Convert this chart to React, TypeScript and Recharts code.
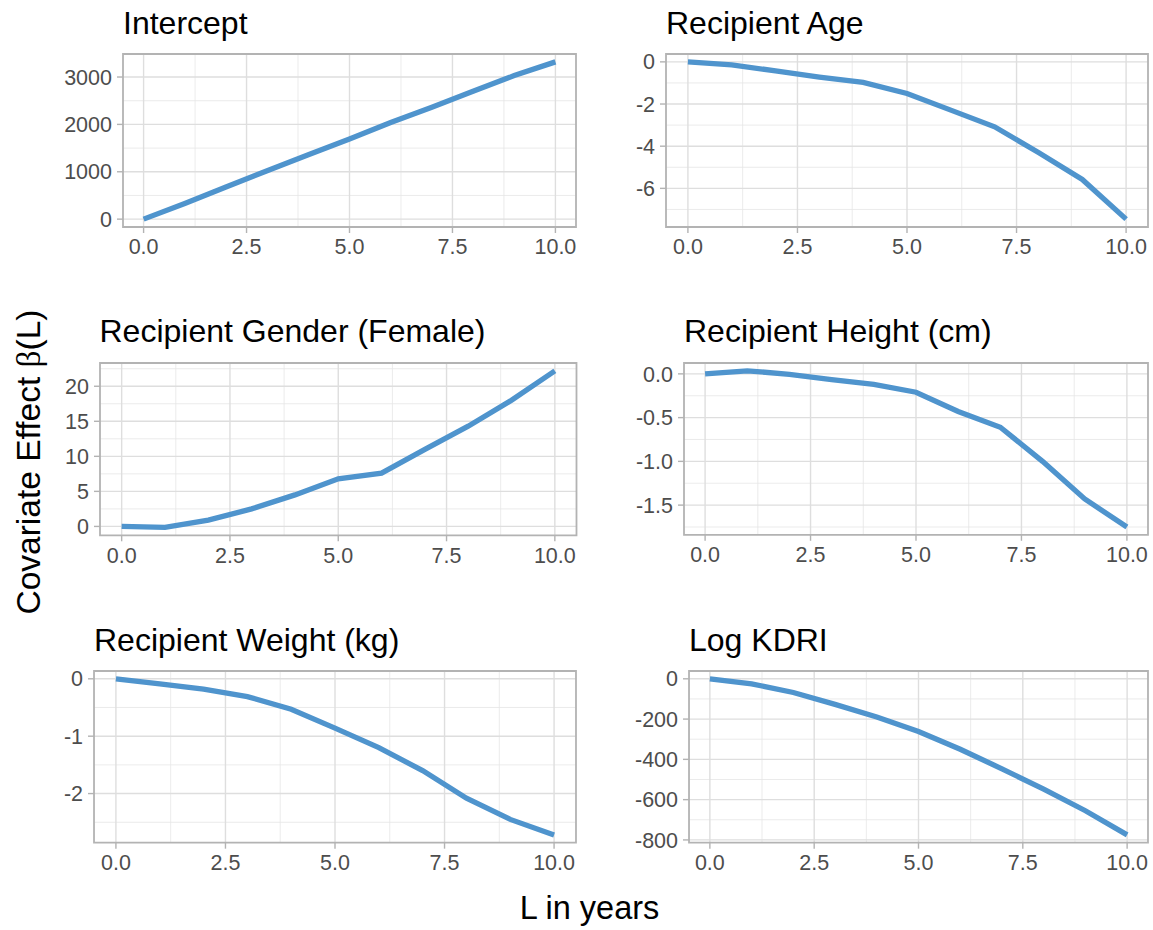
import React from 'react';
import { LineChart, Line, XAxis, YAxis, CartesianGrid, ReferenceArea } from 'recharts';

// ---- data ----
const L_YEARS = [0, 1, 2, 3, 4, 5, 6, 7, 8, 9, 10];
const INTERCEPT = [0, 330, 680, 1020, 1360, 1690, 2040, 2360, 2700, 3030, 3320];
const RECIP_AGE = [0, -0.14, -0.43, -0.72, -0.97, -1.5, -2.29, -3.08, -4.3, -5.58, -7.46];
const RECIP_GENDER = [0, -0.15, 0.9, 2.5, 4.5, 6.8, 7.6, 11.0, 14.3, 18.0, 22.2];
const RECIP_HEIGHT = [0, 0.035, -0.005, -0.065, -0.12, -0.21, -0.43, -0.61, -1.0, -1.43, -1.75];
const RECIP_WEIGHT = [0, -0.09, -0.18, -0.31, -0.53, -0.86, -1.2, -1.6, -2.08, -2.45, -2.72];
const LOG_KDRI = [0, -25, -68, -127, -190, -262, -350, -447, -548, -655, -775];

const X_TICKS = [0, 2.5, 5, 7.5, 10];
const X_MINOR = [1.25, 3.75, 6.25, 8.75];

const TICKS_INTERCEPT = [0, 1000, 2000, 3000];
const MINOR_INTERCEPT = [500, 1500, 2500];
const TICKS_AGE = [-6, -4, -2, 0];
const MINOR_AGE = [-7, -5, -3, -1];
const TICKS_GENDER = [0, 5, 10, 15, 20];
const MINOR_GENDER = [2.5, 7.5, 12.5, 17.5, 22.5];
const TICKS_HEIGHT = [-1.5, -1.0, -0.5, 0];
const MINOR_HEIGHT = [-1.75, -1.25, -0.75, -0.25];
const TICKS_WEIGHT = [-2, -1, 0];
const MINOR_WEIGHT = [-2.5, -1.5, -0.5];
const TICKS_KDRI = [-800, -600, -400, -200, 0];
const MINOR_KDRI = [-700, -500, -300, -100];

const TITLES = [
  'Intercept',
  'Recipient Age',
  'Recipient Gender (Female)',
  'Recipient Height (cm)',
  'Recipient Weight (kg)',
  'Log KDRI',
];

// ---- style / layout ----
const FONT = '"Liberation Sans", Arial, Helvetica, sans-serif';
const LINE_COLOR = '#4F94CD';
const GRID_MAJOR = '#DEDEDE';
const GRID_MINOR = '#E6E6E6';
const BORDER = '#B3B3B3';
const TICK_TEXT = '#4D4D4D';
const TICK_FS = 21.5;

const YW = 90;
const MT = 6;
const MR = 6;
const XH = 44;

const expand = (vals: number[]): [number, number] => {
  const lo = Math.min(...vals);
  const hi = Math.max(...vals);
  const r = hi - lo;
  return [lo - 0.05 * r, hi + 0.05 * r];
};

const fmtInt = (v: number) => String(Math.round(v));
const fmt1 = (v: number) => v.toFixed(1);

type Box = { l: number; t: number; r: number; b: number };

const PANELS: {
  title: string;
  values: number[];
  ticks: number[];
  minor: number[];
  fmt: (v: number) => string;
  box: Box;
}[] = [
  { title: TITLES[0], values: INTERCEPT, ticks: TICKS_INTERCEPT, minor: MINOR_INTERCEPT, fmt: fmtInt, box: { l: 123, t: 54, r: 576, b: 227 } },
  { title: TITLES[1], values: RECIP_AGE, ticks: TICKS_AGE, minor: MINOR_AGE, fmt: fmtInt, box: { l: 666, t: 54, r: 1148, b: 227 } },
  { title: TITLES[2], values: RECIP_GENDER, ticks: TICKS_GENDER, minor: MINOR_GENDER, fmt: fmtInt, box: { l: 99.5, t: 362.7, r: 576, b: 535 } },
  { title: TITLES[3], values: RECIP_HEIGHT, ticks: TICKS_HEIGHT, minor: MINOR_HEIGHT, fmt: fmt1, box: { l: 684, t: 362.7, r: 1148, b: 534.5 } },
  { title: TITLES[4], values: RECIP_WEIGHT, ticks: TICKS_WEIGHT, minor: MINOR_WEIGHT, fmt: fmtInt, box: { l: 94, t: 671, r: 576, b: 842.7 } },
  { title: TITLES[5], values: LOG_KDRI, ticks: TICKS_KDRI, minor: MINOR_KDRI, fmt: fmtInt, box: { l: 689, t: 671, r: 1148, b: 842.7 } },
];

const X_DOMAIN = expand(L_YEARS);

function Panel(p: (typeof PANELS)[number]) {
  const { box } = p;
  const width = box.r - box.l + YW + MR;
  const height = box.b - box.t + MT + XH;
  const data = L_YEARS.map((L, i) => ({ L, v: p.values[i] }));
  const yDomain = expand(p.values);
  return (
    <div style={{ position: 'absolute', left: box.l - YW, top: box.t - MT, width, height }}>
      <LineChart width={width} height={height} data={data} margin={{ top: MT, right: MR, left: 0, bottom: 0 }}>
        <CartesianGrid
          horizontalValues={p.minor}
          verticalValues={X_MINOR}
          stroke={GRID_MINOR}
          strokeWidth={0.8}
        />
        <CartesianGrid
          horizontalValues={p.ticks}
          verticalValues={X_TICKS}
          stroke={GRID_MAJOR}
          strokeWidth={1.4}
        />
        <XAxis
          type="number"
          dataKey="L"
          domain={X_DOMAIN}
          ticks={X_TICKS}
          tickFormatter={fmt1}
          allowDataOverflow
          axisLine={false}
          tickLine={{ stroke: BORDER, strokeWidth: 1.4 }}
          tickSize={6}
          tickMargin={6}
          height={XH}
          interval={0}
          tick={{ fill: TICK_TEXT, fontSize: TICK_FS, fontFamily: FONT }}
        />
        <YAxis
          type="number"
          domain={yDomain}
          ticks={p.ticks}
          tickFormatter={p.fmt}
          allowDataOverflow
          axisLine={false}
          tickLine={{ stroke: BORDER, strokeWidth: 1.4 }}
          tickSize={6}
          tickMargin={5}
          width={YW}
          interval={0}
          tick={{ fill: TICK_TEXT, fontSize: TICK_FS, fontFamily: FONT }}
        />
        <ReferenceArea
          x1={X_DOMAIN[0]}
          x2={X_DOMAIN[1]}
          y1={yDomain[0]}
          y2={yDomain[1]}
          fill="none"
          fillOpacity={0}
          stroke={BORDER}
          strokeWidth={1.8}
          ifOverflow="visible"
        />
        <Line
          type="linear"
          dataKey="v"
          stroke={LINE_COLOR}
          strokeWidth={5.3}
          dot={false}
          activeDot={false}
          isAnimationActive={false}
        />
      </LineChart>
    </div>
  );
}

export default function App() {
  return (
    <div
      style={{
        position: 'absolute',
        left: 0,
        top: 0,
        width: 1153,
        height: 930,
        background: '#FFFFFF',
        fontFamily: FONT,
        overflow: 'hidden',
      }}
    >
      <svg width={1153} height={930} style={{ position: 'absolute', left: 0, top: 0 }}>
        {PANELS.map((p) => (
          <text key={p.title} x={p.box.l} y={p.box.t - 20.5} fontSize={32} fill="#000000" fontFamily={FONT}>
            {p.title}
          </text>
        ))}
        <text x={589.5} y={919} fontSize={32.5} textAnchor="middle" fill="#000000" fontFamily={FONT}>
          L in years
        </text>
        <text
          transform="translate(40,462) rotate(-90)"
          fontSize={33.5}
          textAnchor="middle"
          fill="#000000"
          fontFamily={FONT}
        >
          Covariate Effect <tspan fontFamily='"Liberation Serif", "DejaVu Serif", serif'>β</tspan>(L)
        </text>
      </svg>
      {PANELS.map((p) => (
        <Panel key={p.title} {...p} />
      ))}
    </div>
  );
}
